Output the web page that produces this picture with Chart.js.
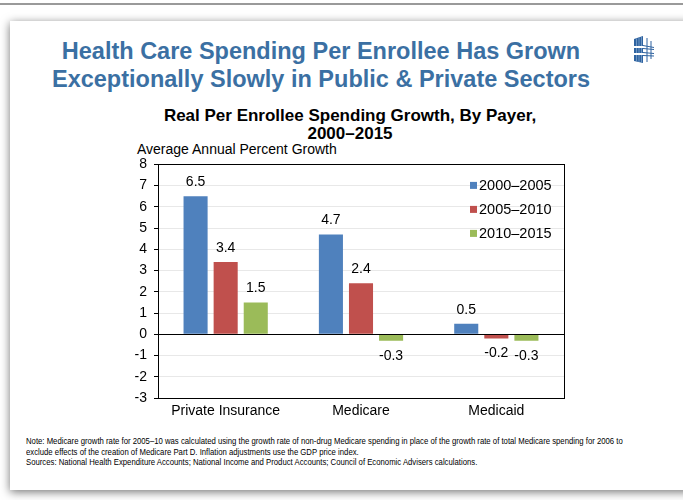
<!DOCTYPE html>
<html>
<head>
<meta charset="utf-8">
<script src="https://cdn.jsdelivr.net/npm/chart.js@4"></script>
<style>
  body { margin: 0; background: #fff; font-family: Arial, "Liberation Sans", sans-serif; }
  #page { position: relative; width: 683px; height: 500px; overflow: hidden; background: #fff; }
  #rule { position: absolute; left: 0; top: 3px; width: 683px; height: 2px; background: #9a9a9a; }
  #slide { position: absolute; left: 10px; top: 21px; width: 700px; height: 469px; background: #fff;
           box-shadow: 0 2px 9px rgba(0,0,0,.55); }
  #title { position: absolute; left: 0; top: 37px; width: 642px; text-align: center; color: #3b70a3;
           font-weight: bold; font-size: 23.5px; line-height: 28px; }
  #logo { position: absolute; left: 632px; top: 35px; }
  #ctitle { position: absolute; left: 150px; top: 107px; width: 400px; text-align: center; color: #000;
            font-weight: bold; font-size: 17px; line-height: 18px; }
  #ylabel { position: absolute; left: 137px; top: 141px; font-size: 14px; color: #000; white-space: nowrap; }
  #wrap { position: absolute; left: 120px; top: 149px; width: 460px; height: 276px; }
  #note { position: absolute; left: 26px; top: 436px; font-size: 9px; line-height: 10.5px; color: #000;
          white-space: nowrap; transform: scaleX(0.86); transform-origin: 0 0; }
</style>
</head>
<body>
<div id="page">
  <div id="rule"></div>
  <div id="slide"></div>
  <div id="title">Health Care Spending Per Enrollee Has Grown<br>Exceptionally Slowly in Public &amp; Private Sectors</div>
  <svg id="logo" width="24" height="30" viewBox="0 0 24 30">
    <polygon points="2,4 11,1 11,28 2,26" fill="#2f63a0"/>
    <line x1="4.5" y1="3.5" x2="4.5" y2="26.5" stroke="#7fa3cc" stroke-width="0.8"/>
    <line x1="7" y1="2.5" x2="7" y2="27" stroke="#7fa3cc" stroke-width="0.8"/>
    <line x1="9.5" y1="1.8" x2="9.5" y2="27.5" stroke="#7fa3cc" stroke-width="0.8"/>
    <rect x="1" y="11" width="22" height="2" fill="#fff"/>
    <rect x="1" y="18" width="22" height="2" fill="#fff"/>
    <line x1="11" y1="10.5" x2="22" y2="12.5" stroke="#2f63a0" stroke-width="1"/>
    <line x1="11" y1="13.5" x2="22" y2="14.5" stroke="#2f63a0" stroke-width="1"/>
    <line x1="11" y1="17.5" x2="22" y2="18.5" stroke="#2f63a0" stroke-width="1"/>
    <line x1="11" y1="20.5" x2="22" y2="21" stroke="#2f63a0" stroke-width="1"/>
    <line x1="15" y1="3" x2="15" y2="27" stroke="#2f63a0" stroke-width="1"/>
    <line x1="19" y1="6" x2="19" y2="24" stroke="#2f63a0" stroke-width="1"/>
  </svg>
  <div id="ctitle">Real Per Enrollee Spending Growth, By Payer,<br>2000–2015</div>
  <div id="ylabel">Average Annual Percent Growth</div>
  <div id="wrap"><canvas id="chart"></canvas></div>
  <div id="note">Note: Medicare growth rate for 2005–10 was calculated using the growth rate of non-drug Medicare spending in place of the growth rate of total Medicare spending for 2006 to<br>exclude effects of the creation of Medicare Part D. Inflation adjustments use the GDP price index.<br>Sources: National Health Expenditure Accounts; National Income and Product Accounts; Council of Economic Advisers calculations.</div>
</div>
<script>
const payers = ['Private Insurance', 'Medicare', 'Medicaid'];
const periods = ['2000–2005', '2005–2010', '2010–2015'];
const growth2000to2005 = [6.5, 4.7, 0.5];
const growth2005to2010 = [3.4, 2.4, -0.2];
const growth2010to2015 = [1.5, -0.3, -0.3];
const periodColors = ['#4f81bd', '#c0504d', '#9bbb59'];

// value labels above / below each bar
const barLabels = {
  id: 'barLabels',
  afterDatasetsDraw(chart) {
    const ctx = chart.ctx;
    ctx.save();
    ctx.font = '14px Arial, "Liberation Sans", sans-serif';
    ctx.fillStyle = '#000';
    ctx.textAlign = 'center';
    ctx.textBaseline = 'middle';
    chart.data.datasets.forEach((ds, i) => {
      chart.getDatasetMeta(i).data.forEach((bar, j) => {
        const v = ds.data[j];
        const y = v >= 0 ? bar.y - 14 : bar.y + 15;
        ctx.fillText(v.toFixed(1), bar.x, y);
      });
    });
    ctx.restore();
  }
};

// plot frame, zero line and the legend inside the plot
const frame = {
  id: 'frame',
  afterDatasetsDraw(chart) {
    const { ctx, chartArea: a, scales } = chart;
    ctx.save();
    ctx.strokeStyle = '#000';
    ctx.lineWidth = 1;
    ctx.strokeRect(Math.round(a.left) + 0.5, Math.round(a.top) + 0.5,
                   Math.round(a.right - a.left), Math.round(a.bottom - a.top));
    const y0 = Math.round(scales.y.getPixelForValue(0)) + 0.5;
    ctx.beginPath();
    ctx.moveTo(a.left, y0);
    ctx.lineTo(a.right, y0);
    ctx.stroke();

    ctx.font = '14.5px Arial, "Liberation Sans", sans-serif';
    ctx.textBaseline = 'middle';
    ctx.textAlign = 'left';
    chart.data.datasets.forEach((ds, i) => {
      const y = a.top + 21 + i * 24;
      ctx.fillStyle = ds.backgroundColor;
      ctx.fillRect(350, y - 3.5, 7, 7);
      ctx.fillStyle = '#000';
      ctx.fillText(ds.label, 359, y + 0.5);
    });
    ctx.restore();
  }
};

const series = [growth2000to2005, growth2005to2010, growth2010to2015];

new Chart(document.getElementById('chart'), {
  type: 'bar',
  data: {
    labels: payers,
    datasets: series.map((values, i) => ({
      label: periods[i],
      data: values,
      backgroundColor: periodColors[i],
      categoryPercentage: 0.667,
      barPercentage: 0.8
    }))
  },
  options: {
    responsive: true,
    maintainAspectRatio: false,
    animation: false,
    layout: { padding: { top: 0, right: 16, left: 0, bottom: 0 } },
    plugins: {
      legend: { display: false },
      tooltip: { enabled: false }
    },
    scales: {
      x: {
        grid: { display: false, drawTicks: false },
        border: { color: '#000' },
        ticks: { color: '#000', font: { size: 14 }, padding: 5 },
        afterFit(s) { s.height = 27; }
      },
      y: {
        min: -3,
        max: 8,
        ticks: { stepSize: 1, color: '#000', font: { size: 14 }, padding: 7 },
        grid: { color: '#e8e8e8', tickColor: '#000', tickLength: 4 },
        border: { color: '#000' },
        afterFit(s) { s.width = 38; }
      }
    }
  },
  plugins: [barLabels, frame]
});
</script>
</body>
</html>
